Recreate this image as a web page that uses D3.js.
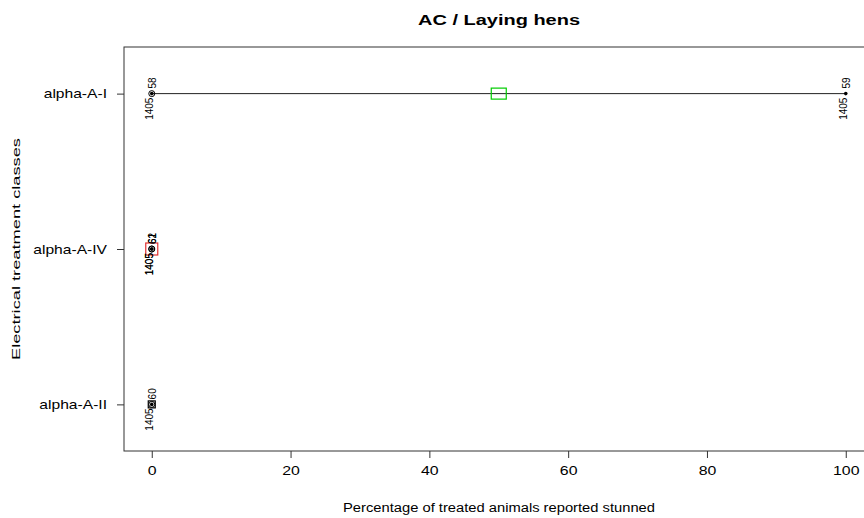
<!DOCTYPE html>
<html><head><meta charset="utf-8">
<script src="https://cdn.jsdelivr.net/npm/d3@7"></script>
<style>body{margin:0;background:#fff}svg{font-family:"Liberation Sans",Arial,sans-serif}</style>
</head><body><svg id="c" width="864" height="518"></svg>
<script>
const categories = ["alpha-A-II", "alpha-A-IV", "alpha-A-I"];
// individual study points
const pointClass = ["alpha-A-I", "alpha-A-I", "alpha-A-IV", "alpha-A-IV", "alpha-A-II"];
const pointValue = [0, 100, 0, 0, 0];
const pointId = ["58", "59", "61", "62", "60"];
const pointN = ["1405", "1405", "1405", "1405", "1405"];
// summary markers
const summaryClass = ["alpha-A-I", "alpha-A-IV", "alpha-A-II"];
const summaryValue = [50, 0, 0];
const summaryColor = ["#00cc00", "#e03030", "#000000"];
const summarySize = [[15, 11], [12, 12], [7, 7]];
// range lines
const rangeClass = ["alpha-A-I"];
const rangeMin = [0];
const rangeMax = [100];
const xTicks = [0, 20, 40, 60, 80, 100];

const svg = d3.select("#c");
const L = 124, T = 47, B = 451;
const x = d3.scaleLinear().domain([-4, 104]).range([L, L + 108 * 6.94]);
const yIdx = d3.scaleLinear().domain([0.7, 3.3]).range([B, T]);
const y = c => yIdx(categories.indexOf(c) + 1);

function stretch(sel, f) {
  sel.each(function () {
    const w = this.getComputedTextLength();
    d3.select(this).attr("textLength", w * f).attr("lengthAdjust", "spacingAndGlyphs");
  });
}

// box (right side clipped by window)
svg.append("rect").attr("x", L).attr("y", T).attr("width", x(104) - L).attr("height", B - T)
  .attr("fill", "none").attr("stroke", "#333").attr("stroke-width", 1);

// x axis
const xa = svg.append("g").attr("transform", `translate(0,${B})`)
  .call(d3.axisBottom(x).tickValues(xTicks).tickSize(7).tickPadding(8).tickFormat(d3.format("d")));
xa.select(".domain").remove();
xa.selectAll("line").attr("stroke", "#333");
xa.selectAll("text").attr("font-size", 13).attr("fill", "#000").call(stretch, 1.22);

// y axis
const ya = svg.append("g").attr("transform", `translate(${L},0)`)
  .call(d3.axisLeft(yIdx).tickValues([1, 2, 3]).tickSize(7).tickPadding(10).tickFormat(d => categories[d - 1]));
ya.select(".domain").remove();
ya.selectAll("line").attr("stroke", "#333");
ya.selectAll("text").attr("font-size", 13).attr("fill", "#000").call(stretch, 1.2);

// titles
svg.append("text").attr("x", 499).attr("y", 25).attr("text-anchor", "middle")
  .attr("font-weight", "bold").attr("font-size", 14)
  .attr("textLength", 162).attr("lengthAdjust", "spacingAndGlyphs").text("AC / Laying hens");
svg.append("text").attr("x", 499).attr("y", 512).attr("text-anchor", "middle")
  .attr("font-size", 12).attr("textLength", 312).attr("lengthAdjust", "spacingAndGlyphs")
  .text("Percentage of treated animals reported stunned");
svg.append("text").attr("transform", "translate(20,249) rotate(-90)").attr("text-anchor", "middle")
  .attr("font-size", 11).attr("textLength", 222).attr("lengthAdjust", "spacingAndGlyphs")
  .text("Electrical treatment classes");

// range lines
rangeClass.forEach((c, i) => {
  svg.append("line").attr("x1", x(rangeMin[i])).attr("x2", x(rangeMax[i]))
    .attr("y1", y(c)).attr("y2", y(c)).attr("stroke", "#222").attr("stroke-width", 1);
});

// summary squares
summaryClass.forEach((c, i) => {
  const [w, h] = summarySize[i];
  svg.append("rect").attr("x", x(summaryValue[i]) - w / 2).attr("y", y(c) - h / 2)
    .attr("width", w).attr("height", h).attr("fill", "none")
    .attr("stroke", summaryColor[i]).attr("stroke-width", 1.2);
});

// points and labels
pointClass.forEach((c, i) => {
  const px = x(pointValue[i]), py = y(c);
  if (pointValue[i] === 0) {
    svg.append("circle").attr("cx", px).attr("cy", py).attr("r", 3)
      .attr("fill", "none").attr("stroke", "#000").attr("stroke-width", 1);
  }
  svg.append("circle").attr("cx", px).attr("cy", py).attr("r", 1.8).attr("fill", "#000");
  svg.append("text").attr("transform", `translate(${px + 4},${py - 5}) rotate(-90)`)
    .attr("font-size", 10).attr("text-anchor", "start").text(pointId[i]);
  svg.append("text").attr("transform", `translate(${px + 1},${py + 4}) rotate(-90)`)
    .attr("font-size", 10).attr("text-anchor", "end").text(pointN[i]);
});
</script></body></html>
